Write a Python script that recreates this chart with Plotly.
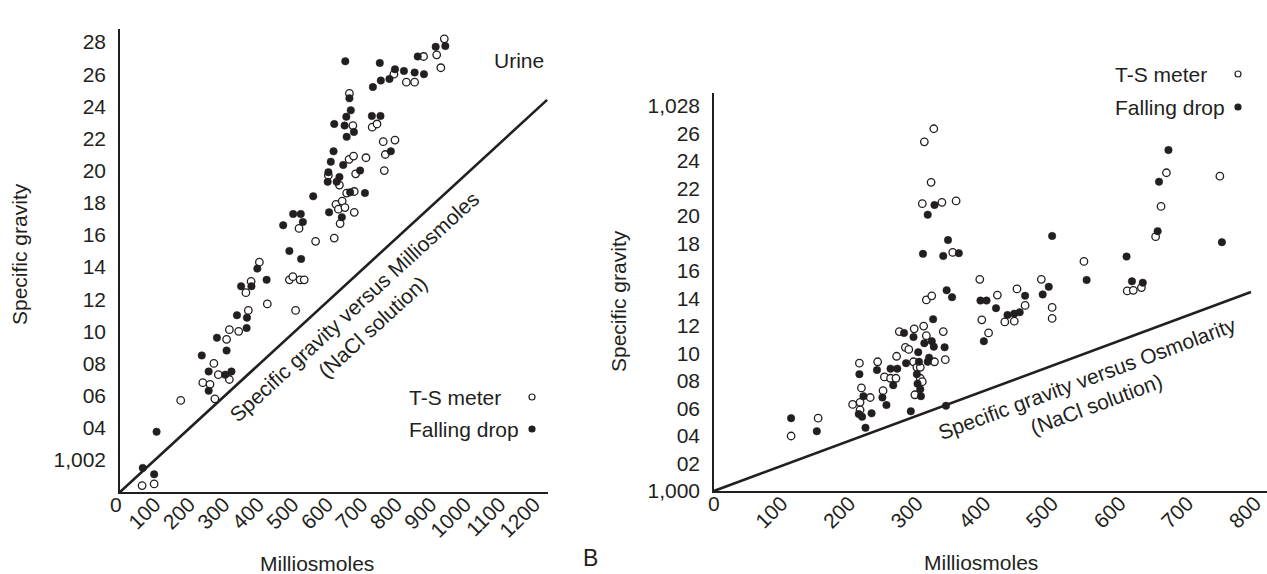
import plotly.graph_objects as go

W, H = 1267, 574
INK = "#231f20"
FONT = "Liberation Sans, Arial, Helvetica, sans-serif"

# ---------------- Left panel (Urine) ----------------
left_ts_x = [64, 99, 176, 275, 240, 261, 272, 285, 317, 309, 317, 344, 372, 365, 380, 404, 427, 509, 491, 501,
             522, 534, 519, 567, 621, 638, 626, 644, 633, 652, 679, 657, 679, 604, 636, 664, 677, 683, 713, 763,
             797, 769, 766, 675, 665, 731, 745, 794, 830, 854, 880, 928, 940, 918, 930]
left_ts_y = [0.4, 0.5, 5.7, 5.8, 6.8, 6.7, 8.0, 7.3, 7.0, 9.5, 10.1, 10.0, 11.3, 12.4, 13.1, 14.3, 11.7, 11.3, 13.2, 13.4,
             13.2, 13.2, 16.4, 15.6, 15.8, 16.7, 17.9, 18.1, 17.6, 17.7, 17.4, 18.6, 18.7, 19.7, 19.1, 20.7, 20.9, 19.8, 20.8, 21.8,
             21.9, 21.0, 20.0, 22.8, 24.8, 22.7, 22.9, 26.0, 25.5, 25.5, 27.1, 29.9, 28.2, 27.2, 26.4]
left_fd_x = [66, 99, 106, 237, 257, 257, 281, 305, 323, 309, 339, 367, 368, 351, 381, 398, 425, 473, 502, 524,
             530, 560, 491, 525, 606, 643, 667, 710, 604, 602, 628, 636, 611, 619, 647, 696, 785, 621, 651, 678,
             657, 656, 669, 665, 653, 730, 755, 733, 756, 781, 753, 797, 823, 854, 881, 863, 901, 937, 915, 943]
left_fd_y = [1.5, 1.1, 3.75, 8.5, 7.5, 6.3, 9.6, 7.3, 7.5, 8.8, 11.0, 10.2, 10.85, 12.8, 12.8, 13.9, 13.2, 16.6, 17.3, 17.3,
             16.8, 18.4, 15.0, 14.5, 17.4, 17.1, 18.65, 18.6, 19.9, 19.3, 19.3, 19.6, 20.55, 21.2, 20.35, 20.0, 21.2, 22.9, 22.8, 22.4,
             22.1, 23.35, 23.75, 24.5, 26.8, 23.4, 23.4, 25.2, 25.6, 25.7, 26.7, 26.3, 26.2, 26.1, 26.0, 27.1, 29.2, 29.3, 27.7, 27.75]
left_line_x = [0, 1238]
left_line_y = [0, 24.4]
left_xticks = [100, 200, 300, 400, 500, 600, 700, 800, 900, 1000, 1100, 1200]
left_yticks = [2, 4, 6, 8, 10, 12, 14, 16, 18, 20, 22, 24, 26, 28]
left_yticktext = ["1,002", "04", "06", "08", "10", "12", "14", "16", "18", "20", "22", "24", "26", "28"]

# ---------------- Right panel (B) ----------------
right_ts_x = [114, 154, 215, 218, 231, 205, 216, 216, 242, 250, 252, 261, 269, 270, 274, 283, 288, 296, 310, 295,
              300, 305, 305, 308, 297, 314, 326, 339, 342, 314, 322, 419, 396, 406, 430, 444, 325, 311, 321, 308,
              337, 358, 353, 393, 448, 460, 484, 500, 500, 547, 611, 620, 632, 669, 661, 653, 748]
right_ts_y = [4.0, 5.3, 9.3, 7.5, 6.8, 6.3, 6.45, 5.9, 9.4, 7.3, 8.3, 8.2, 8.2, 9.8, 11.6, 10.45, 10.3, 11.8, 12.0, 9.4,
              9.0, 9.0, 8.2, 7.95, 7.0, 11.3, 9.4, 11.6, 9.55, 13.9, 14.2, 14.25, 12.45, 11.5, 12.3, 12.35, 26.35, 25.4, 22.45, 20.9,
              21.0, 21.1, 17.35, 15.4, 14.7, 13.5, 15.4, 13.35, 12.55, 16.7, 14.55, 14.6, 14.8, 23.15, 20.7, 18.5, 22.9]
right_fd_x = [114, 152, 215, 221, 214, 219, 233, 224, 241, 249, 255, 261, 271, 265, 281, 284, 291, 295, 302, 303,
              300, 301, 305, 306, 311, 318, 316, 322, 325, 324, 341, 343, 344, 352, 394, 403, 417, 399, 434, 444,
              452, 460, 486, 495, 500, 551, 610, 618, 634, 672, 658, 656, 751, 326, 316, 346, 309, 339, 362]
right_fd_y = [5.3, 4.35, 8.5, 6.9, 5.6, 5.4, 5.65, 4.6, 8.8, 6.8, 6.25, 8.9, 8.9, 7.7, 11.5, 9.3, 5.8, 11.2, 10.1, 9.4,
              8.5, 7.8, 7.4, 6.9, 10.75, 9.7, 9.4, 10.9, 10.5, 12.5, 10.45, 6.2, 14.6, 14.1, 13.85, 13.85, 13.3, 10.9, 12.8, 12.9,
              13.0, 14.2, 14.3, 14.85, 18.55, 15.35, 17.05, 15.25, 15.15, 24.8, 22.5, 18.9, 18.1, 20.8, 20.1, 18.25, 17.25, 17.1, 17.3]
right_line_x = [0, 794]
right_line_y = [0, 14.47]
right_xticks = [100, 200, 300, 400, 500, 600, 700, 800]
right_yticks = list(range(0, 29, 2))
right_yticktext = ["1,000", "02", "04", "06", "08", "10", "12", "14", "16", "18", "20", "22", "24", "26", "1,028"]


def open_marker():
    return dict(symbol="circle", size=7.5, color="white", line=dict(color=INK, width=1.3))


def filled_marker():
    return dict(symbol="circle", size=7.5, color=INK, line=dict(color=INK, width=0.5))


fig = go.Figure()
# left
fig.add_trace(go.Scatter(x=left_line_x, y=left_line_y, mode="lines", line=dict(color=INK, width=2.6),
                         xaxis="x", yaxis="y", showlegend=False, hoverinfo="skip"))
fig.add_trace(go.Scatter(x=left_ts_x, y=left_ts_y, mode="markers", marker=open_marker(), name="T-S meter",
                         xaxis="x", yaxis="y", showlegend=False, cliponaxis=False))
fig.add_trace(go.Scatter(x=left_fd_x, y=left_fd_y, mode="markers", marker=filled_marker(), name="Falling drop",
                         xaxis="x", yaxis="y", showlegend=False, cliponaxis=False))
# right
fig.add_trace(go.Scatter(x=right_line_x, y=right_line_y, mode="lines", line=dict(color=INK, width=2.6),
                         xaxis="x2", yaxis="y2", showlegend=False, hoverinfo="skip"))
fig.add_trace(go.Scatter(x=right_ts_x, y=right_ts_y, mode="markers", marker=open_marker(), name="T-S meter",
                         xaxis="x2", yaxis="y2", showlegend=False, cliponaxis=False))
fig.add_trace(go.Scatter(x=right_fd_x, y=right_fd_y, mode="markers", marker=filled_marker(), name="Falling drop",
                         xaxis="x2", yaxis="y2", showlegend=False, cliponaxis=False))

FS = 21
tickfont = dict(family=FONT, size=FS, color=INK)
common_x = dict(showline=True, linecolor=INK, linewidth=1.5, showgrid=False, zeroline=False, ticks="",
                tickangle=-45, tickfont=tickfont, automargin=False, fixedrange=True, ticklabelstandoff=-10,
                ticklabeloverflow="allow")
common_y = dict(showline=True, linecolor=INK, linewidth=1.5, showgrid=False, zeroline=False, ticks="",
                tickfont=tickfont, automargin=False, fixedrange=True, ticklabelstandoff=8,
                ticklabeloverflow="allow")

fig.update_layout(
    width=W, height=H,
    margin=dict(l=0, r=0, t=0, b=0),
    paper_bgcolor="white", plot_bgcolor="white",
    font=dict(family=FONT, size=FS, color=INK),
    xaxis=dict(domain=[120 / W, 548 / W], range=[0, 1240.6], anchor="y", tickvals=left_xticks,
               ticktext=[str(v) for v in left_xticks], **common_x),
    yaxis=dict(domain=[1 - 492 / H, 1 - 29 / H], range=[0, 28.81], anchor="x", tickvals=left_yticks,
               ticktext=left_yticktext, **common_y),
    xaxis2=dict(domain=[714 / W, 1.0], range=[0, 817.7], anchor="y2", tickvals=right_xticks,
                ticktext=[str(v) for v in right_xticks], **common_x),
    yaxis2=dict(domain=[1 - 491 / H, 1 - 93 / H], range=[0, 28.95], anchor="x2", tickvals=right_yticks,
                ticktext=right_yticktext, **common_y),
)


def ann(text, x, y, size=FS, angle=0, xanchor="center", yanchor="middle", align="center"):
    fig.add_annotation(text=text, x=x / W, y=1 - y / H, xref="paper", yref="paper", showarrow=False,
                       font=dict(family=FONT, size=size, color=INK), textangle=angle,
                       xanchor=xanchor, yanchor=yanchor, align=align)


# axis titles
ann("Specific gravity", 20, 254, angle=-90)
ann("Specific gravity", 618, 301, angle=-90)
ann("Milliosmoles", 317, 563)
ann("Milliosmoles", 981, 562)
ann("B", 590, 558, size=23)
ann("0", 116, 504)
ann("0", 714, 503)
ann("Urine", 492, 60, xanchor="left")
# line labels
ann("Specific gravity versus Milliosmoles<br>(NaCl solution)", 363, 317, angle=-42.5)
ann("Specific gravity versus Osmolarity<br>(NaCl solution)", 1092, 391, angle=-20.3)
# legends
ann("T-S meter", 407, 397, xanchor="left")
ann("Falling drop", 407, 429, xanchor="left")
ann("T-S meter", 1113, 74, xanchor="left")
ann("Falling drop", 1113, 107, xanchor="left")


def legend_dot(cx, cy, filled):
    r = 3
    fig.add_shape(type="circle", xref="paper", yref="paper",
                  x0=(cx - r) / W, x1=(cx + r) / W, y0=1 - (cy + r) / H, y1=1 - (cy - r) / H,
                  fillcolor=INK if filled else "white", line=dict(color=INK, width=1.2))


legend_dot(532, 397, False)
legend_dot(532, 429, True)
legend_dot(1238, 74, False)
legend_dot(1238, 107, True)

fig.write_html("out.html", config={"displayModeBar": False},
               post_script="document.body.style.margin='0';document.body.style.overflow='hidden';")
